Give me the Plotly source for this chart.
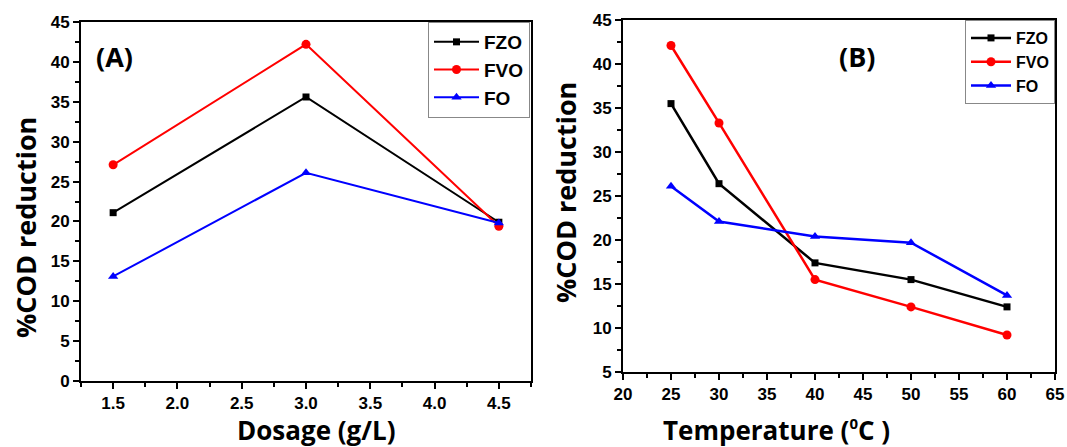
import plotly.graph_objects as go

# ---- data ----
dosage = [1.5, 3.0, 4.5]
dos_fzo = [21.1, 35.6, 19.9]
dos_fvo = [27.1, 42.2, 19.4]
dos_fo = [13.1, 26.1, 19.8]

temperature = [25, 30, 40, 50, 60]
tmp_fzo = [35.5, 26.4, 17.4, 15.5, 12.4]
tmp_fvo = [42.1, 33.3, 15.5, 12.4, 9.2]
tmp_fo = [26.1, 22.1, 20.4, 19.7, 13.7]

series_names = ["FZO", "FVO", "FO"]
colors = ["#000000", "#ff0000", "#0000ff"]
symbols = ["square", "circle", "triangle-up"]
msizes = [7, 9, 9]

W, H = 1067, 447
fig = go.Figure()

for name, ys, c, s, ms in zip(series_names, [dos_fzo, dos_fvo, dos_fo], colors, symbols, msizes):
    fig.add_trace(go.Scatter(x=dosage, y=ys, name=name, mode="lines+markers",
                             line=dict(color=c, width=2), marker=dict(symbol=s, size=ms, color=c),
                             xaxis="x", yaxis="y", legend="legend"))
for name, ys, c, s, ms in zip(series_names, [tmp_fzo, tmp_fvo, tmp_fo], colors, symbols, msizes):
    fig.add_trace(go.Scatter(x=temperature, y=ys, name=name, mode="lines+markers",
                             line=dict(color=c, width=2.5), marker=dict(symbol=s, size=ms, color=c),
                             xaxis="x2", yaxis="y2", legend="legend2"))

tickfont = dict(family="Liberation Sans, Arial", size=17, color="black", weight="bold")
axis_common = dict(showline=True, linecolor="black", linewidth=2, mirror=True,
                   ticks="outside", ticklen=6, tickwidth=2, tickcolor="black",
                   showgrid=False, zeroline=False, tickfont=tickfont, automargin=False)

def px_x(p):
    return p / W

def px_y(p):
    return 1 - p / H

fig.update_layout(
    width=W, height=H, margin=dict(l=0, r=0, t=0, b=0),
    paper_bgcolor="white", plot_bgcolor="white",
    xaxis=dict(domain=[px_x(81), px_x(531)], range=[1.25, 4.75], tick0=1.5, dtick=0.5,
               tickformat=".1f", anchor="y",
               minor=dict(ticks="outside", ticklen=4, tickwidth=2, tickcolor="black", dtick=0.25, tick0=1.5),
               **axis_common),
    yaxis=dict(domain=[px_y(381), px_y(22)], range=[0, 45], tick0=0, dtick=5, anchor="x",
               minor=dict(ticks="outside", ticklen=4, tickwidth=2, tickcolor="black", dtick=2.5, tick0=0),
               **axis_common),
    xaxis2=dict(domain=[px_x(623), px_x(1055)], range=[20, 65], tick0=20, dtick=5, anchor="y2",
                minor=dict(ticks="outside", ticklen=4, tickwidth=2, tickcolor="black", dtick=2.5, tick0=20),
                **axis_common),
    yaxis2=dict(domain=[px_y(372), px_y(20)], range=[5, 45], tick0=5, dtick=5, anchor="x2",
                minor=dict(ticks="outside", ticklen=4, tickwidth=2, tickcolor="black", dtick=2.5, tick0=5),
                **axis_common),
    legend=dict(x=px_x(530), xanchor="right", y=px_y(22), yanchor="top",
                bgcolor="white", bordercolor="#888888", borderwidth=1,
                font=dict(family="Liberation Sans, Arial", size=19, color="black", weight="bold"),
                itemwidth=45, tracegroupgap=0),
    legend2=dict(x=px_x(1055), xanchor="right", y=px_y(20), yanchor="top",
                 bgcolor="white", bordercolor="#888888", borderwidth=1,
                 font=dict(family="Liberation Sans, Arial", size=16, color="black", weight="bold"),
                 itemwidth=40, tracegroupgap=0),
    showlegend=True,
)

title_font = dict(family="Open Sans", size=27, color="black", weight="bold")
xtitle_font = dict(family="Open Sans", size=26, color="black", weight="bold")
annotations = [
    dict(text="%COD reduction", x=px_x(25), y=px_y(228), textangle=-90, font=title_font),
    dict(text="%COD reduction", x=px_x(565), y=px_y(193), textangle=-90, font=title_font),
    dict(text="Dosage (g/L)", x=px_x(316), y=px_y(429.5), textangle=0, font=xtitle_font),
    dict(text="Temperature (<sup><span style='font-size:15px'>0</span></sup>C )",
         x=px_x(776), y=px_y(429.5), textangle=0, font=xtitle_font),
    dict(text="(A)", x=px_x(114), y=px_y(56), textangle=0, font=title_font),
    dict(text="(B)", x=px_x(857), y=px_y(56), textangle=0, font=title_font),
]
for a in annotations:
    fig.add_annotation(xref="paper", yref="paper", showarrow=False,
                       xanchor="center", yanchor="middle", **a)

fig.write_html("out.html", config={"displayModeBar": False},
               post_script="document.body.style.margin='0';document.body.style.padding='0';"
                           "document.documentElement.style.overflow='hidden';")
